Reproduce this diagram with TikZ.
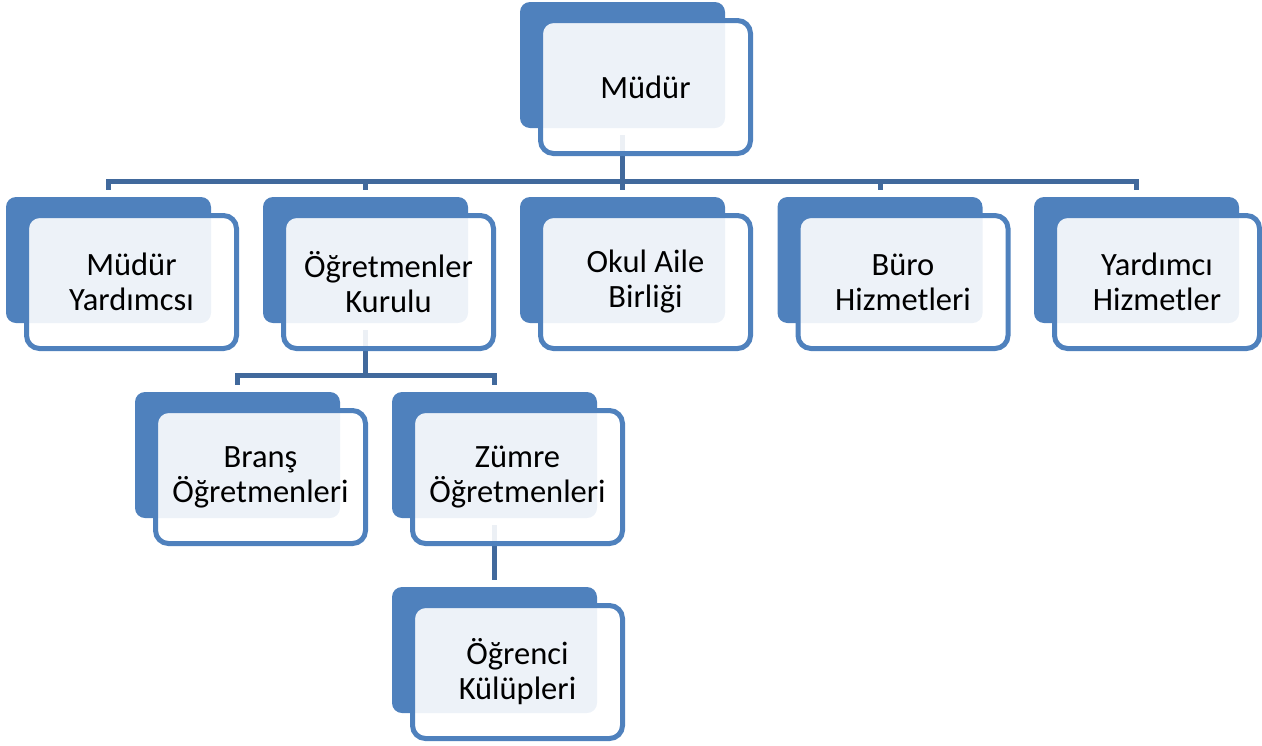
\documentclass[tikz,border=0pt]{standalone}
\usepackage{fontspec}
\setmainfont{Carlito}
\definecolor{boxblue}{HTML}{4F81BD}
\definecolor{linkblue}{HTML}{41699C}
\tikzset{
  backbox/.style={anchor=north west, fill=boxblue, draw=none, rounded corners=10pt,
    minimum width=205pt, minimum height=126pt, inner sep=0pt, outer sep=0pt},
  frontbox/.style={anchor=north west, fill=white, fill opacity=0.9, text opacity=1,
    draw=boxblue, draw opacity=1, line width=5pt, rounded corners=13pt,
    minimum width=210pt, minimum height=133pt, inner sep=0pt, outer sep=0pt,
    align=center, text=black, font=\fontsize{32.5}{35}\selectfont},
  link/.style={draw=linkblue, line width=5pt},
}
\newcommand\fpos[1]{([xshift=20.5pt,yshift=-18.5pt]#1.north west)}
\begin{document}
\begin{tikzpicture}
\useasboundingbox (0,0) rectangle (1262pt,-745pt);
% back boxes
\node[backbox] (b0) at (520pt,-2pt) {};
\node[backbox] (b1) at (6pt,-197pt) {};
\node[backbox] (b2) at (263pt,-197pt) {};
\node[backbox] (b3) at (520pt,-197pt) {};
\node[backbox] (b4) at (777.5pt,-197pt) {};
\node[backbox] (b5) at (1034pt,-197pt) {};
\node[backbox] (b6) at (135pt,-392pt) {};
\node[backbox] (b7) at (392pt,-392pt) {};
\node[backbox] (b8) at (392pt,-587pt) {};
% buses
\coordinate (bus1) at (0,-174pt);
\coordinate (bus2) at (0,-368pt);
% connectors
\foreach \c in {b1,b2,b3,b4,b5}{
  \draw[link] ([yshift=-7pt]b0.south) -- ([yshift=-7pt]b0.south |- bus1) -| ([yshift=7pt]\c.north);
}
\foreach \c in {b6,b7}{
  \draw[link] ([yshift=-7pt]b2.south) -- ([yshift=-7pt]b2.south |- bus2) -| ([yshift=7pt]\c.north);
}
\draw[link] ([yshift=-7pt]b7.south) -- ([yshift=7pt]b8.north);
% front boxes
\node[frontbox] (f0) at \fpos{b0} {Müdür};
\node[frontbox] (f1) at \fpos{b1} {Müdür\\Yardımcsı};
\node[frontbox] (f2) at \fpos{b2} {Öğretmenler\\Kurulu};
\node[frontbox] (f3) at \fpos{b3} {Okul Aile\\Birliği};
\node[frontbox] (f4) at \fpos{b4} {Büro\\Hizmetleri};
\node[frontbox, minimum width=205pt] (f5) at \fpos{b5} {Yardımcı\\Hizmetler};
\node[frontbox] (f6) at \fpos{b6} {Branş\\Öğretmenleri};
\node[frontbox] (f7) at \fpos{b7} {Zümre\\Öğretmenleri};
\node[frontbox] (f8) at \fpos{b8} {Öğrenci\\Külüpleri};
\end{tikzpicture}
\end{document}
